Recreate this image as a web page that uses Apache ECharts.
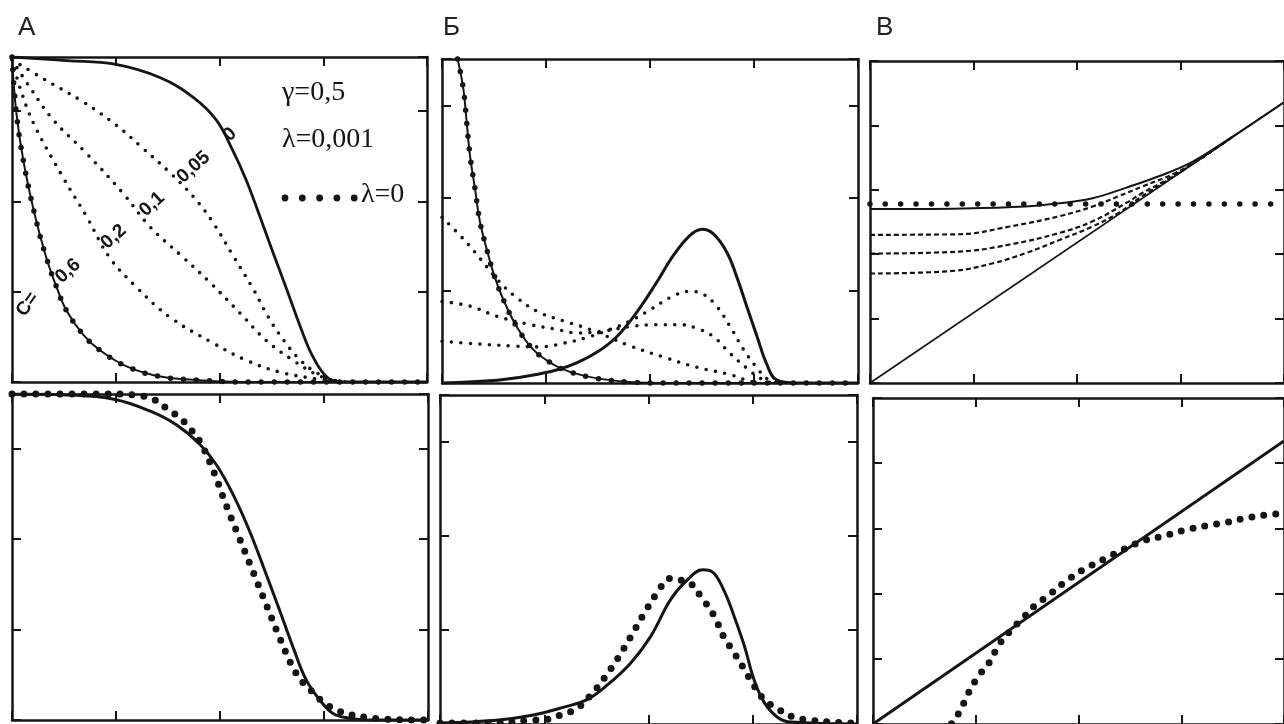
<!DOCTYPE html>
<html><head><meta charset="utf-8">
<script src="https://cdn.jsdelivr.net/npm/echarts@6/dist/echarts.min.js"></script>
<style>html,body{margin:0;padding:0;background:#fff}#c{width:1284px;height:724px}</style>
</head><body><div id="c"></div>
<script>
// ---------------- DATA (x: 0..4, one unit per x tick) ----------------
const panelTitles = ['А', 'Б', 'В'];
const legendLines = ['γ=0,5', 'λ=0,001', 'λ=0'];

// Panel A, top: survival-type curves for c = 0, 0.05, 0.1, 0.2, 0.6
const aTop_c0   = [[0,3.6],[0.53,3.56],[0.99,3.52],[1.43,3.37],[1.75,3.15],[1.97,2.90],[2.13,2.56],[2.26,2.23],[2.39,1.83],[2.52,1.42],[2.65,1.02],[2.78,0.61],[2.90,0.28],[3.03,0.06],[3.16,0],[4,0]];
const aTop_c005 = [[0,3.57],[0.30,3.36],[0.69,3.10],[1.01,2.84],[1.25,2.60],[1.53,2.31],[1.75,2.05],[1.93,1.78],[2.13,1.40],[2.33,1.02],[2.47,0.72],[2.62,0.46],[2.78,0.24],[2.94,0.10],[3.10,0.02],[3.25,0]];
const aTop_c01  = [[0,3.57],[0.18,3.25],[0.40,2.90],[0.72,2.53],[1.07,2.09],[1.33,1.72],[1.65,1.38],[1.91,1.10],[2.20,0.76],[2.45,0.46],[2.71,0.24],[2.94,0.08],[3.15,0]];
const aTop_c02  = [[0,3.57],[0.08,3.25],[0.21,2.86],[0.49,2.27],[0.72,1.83],[0.94,1.38],[1.20,1.05],[1.52,0.72],[1.94,0.43],[2.26,0.24],[2.58,0.11],[2.90,0.04],[3.15,0]];
const aTop_c06  = [[0,3.6],[0.04,3.0],[0.11,2.45],[0.22,1.85],[0.33,1.38],[0.43,1.05],[0.53,0.78],[0.69,0.52],[0.85,0.35],[1.11,0.17],[1.43,0.06],[1.81,0.02],[2.2,0],[4,0]];
const aTopLabelText = ['0', '0,05', '0,1', '0,2', '0,6', 'C='];
const aTopLabelX    = [2.10, 1.75, 1.35, 0.98, 0.54, 0.15];
const aTopLabelY    = [2.74, 2.38, 1.97, 1.61, 1.23, 0.86];

// Panel Б, top: densities
const bTop_c06  = [[0.15,3.5],[0.205,3.18],[0.237,2.82],[0.269,2.46],[0.317,2.10],[0.365,1.74],[0.429,1.45],[0.494,1.19],[0.59,0.90],[0.718,0.61],[0.878,0.36],[1.07,0.20],[1.23,0.12],[1.49,0.05],[1.81,0.01],[2.13,0],[4,0]];
const bTop_c0   = [[0,0],[0.53,0.03],[0.85,0.08],[1.10,0.14],[1.30,0.22],[1.50,0.34],[1.68,0.50],[1.87,0.76],[2.06,1.08],[2.22,1.37],[2.38,1.59],[2.50,1.66],[2.61,1.61],[2.74,1.41],[2.83,1.16],[2.93,0.83],[3.03,0.50],[3.12,0.21],[3.22,0.03],[3.41,0],[4,0]];
const bTop_c005 = [[0,0.45],[0.37,0.42],[0.69,0.40],[0.94,0.39],[1.17,0.43],[1.39,0.49],[1.62,0.58],[1.81,0.67],[2.0,0.79],[2.19,0.92],[2.38,0.99],[2.51,0.96],[2.64,0.83],[2.77,0.61],[2.90,0.36],[3.03,0.16],[3.12,0.05],[3.22,0]];
const bTop_c01  = [[0,0.88],[0.27,0.83],[0.53,0.72],[0.85,0.63],[1.10,0.58],[1.30,0.54],[1.55,0.56],[1.81,0.61],[2.06,0.63],[2.29,0.63],[2.45,0.59],[2.61,0.50],[2.77,0.32],[2.93,0.16],[3.06,0.05],[3.17,0]];
const bTop_c02  = [[0,1.79],[0.21,1.55],[0.37,1.34],[0.53,1.12],[0.72,0.92],[0.94,0.76],[1.17,0.67],[1.42,0.58],[1.81,0.40],[2.13,0.28],[2.45,0.17],[2.77,0.09],[2.93,0.03],[3.05,0]];

// Panel В, top: mean residual-type curves
const cTop_diag = [[0,0],[4,4.36]];
const cTop_c0   = [[0,2.70],[0.9,2.71],[1.5,2.74],[1.83,2.79],[2.15,2.87],[2.47,3.03],[2.79,3.21],[3.11,3.43],[3.43,3.75],[4,4.36]];
const cTop_c005 = [[0,2.30],[0.86,2.31],[1.35,2.43],[1.83,2.59],[2.15,2.74],[2.40,2.90],[2.63,3.05],[2.95,3.26],[3.2,3.49],[3.5,3.82]];
const cTop_c01  = [[0,2.01],[0.86,2.04],[1.35,2.15],[1.83,2.33],[2.15,2.51],[2.47,2.79],[2.63,2.95],[2.85,3.14],[3.2,3.49],[3.5,3.82]];
const cTop_c02  = [[0,1.70],[0.8,1.74],[1.19,1.86],[1.51,2.02],[1.83,2.22],[2.15,2.43],[2.40,2.64],[2.63,2.90],[2.85,3.12],[3.2,3.49],[3.5,3.82]];
const cTop_lam0 = [[0,2.78],[4,2.78]];

// Bottom row: model (solid) vs λ=0 (dots)
const aBot_solid = [[0,3.6],[0.53,3.59],[0.99,3.54],[1.33,3.41],[1.58,3.26],[1.81,3.04],[1.97,2.81],[2.13,2.48],[2.29,2.07],[2.45,1.59],[2.58,1.19],[2.71,0.78],[2.83,0.44],[2.96,0.22],[3.09,0.07],[3.25,0.02],[3.41,0],[4,0]];
const aBot_dots  = [[0,3.6],[0.9,3.6],[1.17,3.59],[1.36,3.54],[1.49,3.44],[1.62,3.33],[1.71,3.22],[1.81,3.07],[1.94,2.74],[2.06,2.37],[2.19,2.0],[2.32,1.63],[2.45,1.26],[2.58,0.89],[2.71,0.56],[2.80,0.41],[2.90,0.30],[2.99,0.20],[3.12,0.11],[3.25,0.06],[3.41,0.03],[3.57,0.01],[3.89,0],[4,0]];
const bBot_solid = [[0,0.01],[0.54,0.04],[0.87,0.09],[1.19,0.18],[1.41,0.26],[1.60,0.41],[1.83,0.65],[2.02,0.93],[2.21,1.32],[2.37,1.53],[2.52,1.64],[2.61,1.62],[2.72,1.43],[2.82,1.15],[2.92,0.83],[3.01,0.48],[3.11,0.23],[3.24,0.07],[3.37,0.02],[4,0]];
const bBot_dots  = [[0,0.01],[0.5,0.01],[0.87,0.04],[1.03,0.05],[1.19,0.11],[1.31,0.16],[1.47,0.34],[1.57,0.48],[1.70,0.69],[1.83,0.93],[1.96,1.18],[2.08,1.39],[2.21,1.55],[2.31,1.53],[2.40,1.50],[2.50,1.36],[2.63,1.15],[2.72,0.93],[2.82,0.76],[2.92,0.58],[3.01,0.41],[3.11,0.26],[3.24,0.16],[3.40,0.07],[3.56,0.04],[3.75,0.02],[4,0.01]];
const cBot_line  = [[0,0],[4,4.34]];
const cBot_dots  = [[0.70,-0.15],[0.77,0.02],[0.84,0.18],[0.93,0.48],[1.03,0.74],[1.13,0.94],[1.22,1.20],[1.32,1.40],[1.45,1.61],[1.57,1.81],[1.70,1.96],[1.86,2.17],[2.05,2.37],[2.25,2.53],[2.44,2.68],[2.63,2.81],[2.82,2.88],[3.05,2.98],[3.24,3.04],[3.43,3.09],[3.63,3.16],[3.85,3.21],[4,3.23]];

// y-axis upper limits per panel (in tick units)
const yMax = [3.6, 3.5, 5, 3.6, 3.5, 5];

// ---------------- LAYOUT / STYLE ----------------
const INK = '#151515';
const gridBoxes = [
  {left: 12,  top: 57,  width: 415, height: 325},
  {left: 442, top: 59,  width: 416, height: 324},
  {left: 870, top: 61,  width: 416, height: 322},
  {left: 12,  top: 394, width: 416, height: 326},
  {left: 440, top: 395, width: 417, height: 330},
  {left: 873, top: 398, width: 416, height: 327}
];

const xAxes = [], yAxes = [];
gridBoxes.forEach((g, i) => {
  ['bottom', 'top'].forEach(pos => xAxes.push({
    gridIndex: i, type: 'value', position: pos, min: 0, max: 4, interval: 1,
    axisLine: {show: true, onZero: false, lineStyle: {color: INK, width: 2.5}},
    axisTick: {show: true, inside: true, length: 9, lineStyle: {color: INK, width: 2}},
    axisLabel: {show: false}, splitLine: {show: false}
  }));
  ['left', 'right'].forEach(pos => yAxes.push({
    gridIndex: i, type: 'value', position: pos, min: 0, max: yMax[i], interval: 1,
    axisLine: {show: true, onZero: false, lineStyle: {color: INK, width: 2.5}},
    axisTick: {show: true, inside: true, length: 9, lineStyle: {color: INK, width: 2}},
    axisLabel: {show: false}, splitLine: {show: false}
  }));
});

function solid(g, data, w) {
  return {type: 'line', xAxisIndex: 2 * g, yAxisIndex: 2 * g, data: data, smooth: 0.4,
    symbol: 'none', silent: true, z: 3,
    lineStyle: {color: INK, width: w}};
}
function dots(g, data, w, gap) {
  return {type: 'line', xAxisIndex: 2 * g, yAxisIndex: 2 * g, data: data, smooth: 0.4,
    symbol: 'none', silent: true, clip: false, z: 4,
    lineStyle: {color: INK, width: w, type: [0, gap], cap: 'round'}};
}
function dashed(g, data, w) {
  return {type: 'line', xAxisIndex: 2 * g, yAxisIndex: 2 * g, data: data, smooth: 0.4,
    symbol: 'none', silent: true, z: 3,
    lineStyle: {color: INK, width: w, type: [5, 3]}};
}

const series = [
  // A top
  solid(0, aTop_c0, 2.8),
  dots(0, aTop_c005, 3.6, 9.5),
  dots(0, aTop_c01, 3.6, 9.5),
  dots(0, aTop_c02, 3.6, 9.5),
  solid(0, aTop_c06, 2),
  dots(0, aTop_c06, 5.5, 13),
  // Б top
  solid(1, bTop_c06, 2),
  dots(1, bTop_c06, 5.5, 13),
  solid(1, bTop_c0, 3),
  dots(1, bTop_c005, 3.6, 9.5),
  dots(1, bTop_c01, 3.6, 9.5),
  dots(1, bTop_c02, 3.6, 9.5),
  // В top
  solid(2, cTop_diag, 1.6),
  solid(2, cTop_c0, 2),
  dashed(2, cTop_c005, 2.2),
  dashed(2, cTop_c01, 2.2),
  dashed(2, cTop_c02, 2.2),
  dots(2, cTop_lam0, 5.5, 15.4),
  // bottom row
  solid(3, aBot_solid, 3),
  dots(3, aBot_dots, 7, 12),
  solid(4, bBot_solid, 3),
  dots(4, bBot_dots, 7, 12),
  solid(5, cBot_line, 3),
  dots(5, cBot_dots, 7, 12)
];

const graphic = [];
const titleX = [18, 443, 876];
panelTitles.forEach((t, k) => graphic.push({type: 'text', left: titleX[k], top: 15,
  style: {text: t, font: '26px "Liberation Sans"', fill: '#222'}}));
const legendY = [95, 142, 197];
graphic.push({type: 'text', left: 282, top: legendY[0] - 16, style: {text: legendLines[0], font: '28px "Liberation Serif"', fill: INK}});
graphic.push({type: 'text', left: 282, top: legendY[1] - 16, style: {text: legendLines[1], font: '28px "Liberation Serif"', fill: INK}});
graphic.push({type: 'text', left: 361, top: legendY[2] - 16, style: {text: legendLines[2], font: '28px "Liberation Serif"', fill: INK}});
for (let k = 0; k < 5; k++) {
  graphic.push({type: 'circle', shape: {cx: 285 + 17.3 * k, cy: legendY[2] + 1, r: 3.4}, style: {fill: INK}});
}

const chart = echarts.init(document.getElementById('c'), null, {renderer: 'canvas'});
chart.setOption({
  animation: false,
  backgroundColor: '#fff',
  grid: gridBoxes.map(g => Object.assign({containLabel: false}, g)),
  xAxis: xAxes,
  yAxis: yAxes,
  series: series,
  graphic: graphic
});

// curve labels of panel A (placed at data coordinates through the axes)
const curveLabels = aTopLabelText.map((t, k) => {
  const p = chart.convertToPixel({xAxisIndex: 0, yAxisIndex: 0}, [aTopLabelX[k], aTopLabelY[k]]);
  return {type: 'text', x: p[0], y: p[1], rotation: (k === 5 ? 55 : 42) * Math.PI / 180, z: 10,
    style: {text: t, font: 'bold 19px "Liberation Sans"', fill: INK,
      align: 'center', verticalAlign: 'middle', textAlign: 'center', textVerticalAlign: 'middle'}};
});
chart.setOption({graphic: graphic.concat(curveLabels)});
</script></body></html>
